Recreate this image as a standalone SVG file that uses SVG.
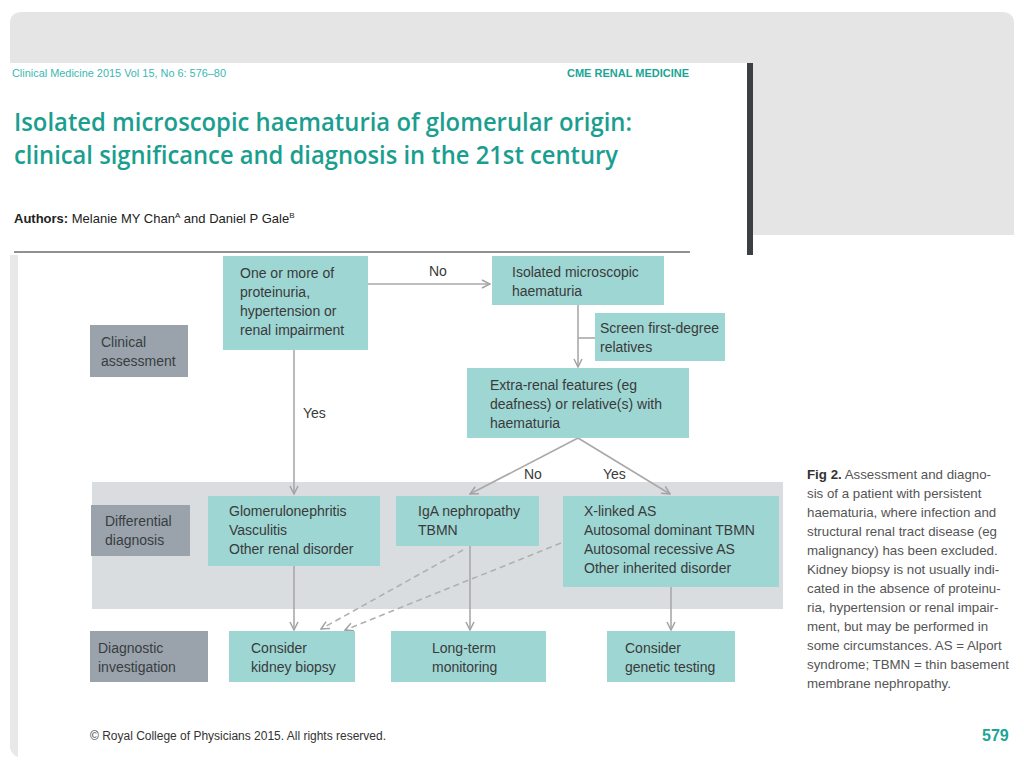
<svg xmlns="http://www.w3.org/2000/svg" width="1024" height="768" viewBox="0 0 1024 768">
<style>
.box{fill:#9dd6d3;}
.lab{fill:#9aa3ab;}
.t{font-family:"Liberation Sans",Arial,sans-serif;font-size:14px;fill:#3a3a3a;}
.tl{font-family:"Liberation Sans",Arial,sans-serif;font-size:14px;fill:#383d42;}
.c{fill:none;stroke:#a9a9a9;stroke-width:1.6;}
.d{fill:none;stroke:#b0b0b0;stroke-width:1.6;stroke-dasharray:6,4;}
.cap{font-family:"Liberation Sans",Arial,sans-serif;font-size:13.3px;fill:#555;}
.teal{fill:#1a9e90;}
</style>
<defs>
<marker id="ah" viewBox="0 0 10 10" refX="9" refY="5" markerWidth="10" markerHeight="10" markerUnits="userSpaceOnUse" orient="auto">
<path d="M1,1 L9,5 L1,9" fill="none" stroke="#a3a3a3" stroke-width="1.5"/>
</marker>
</defs>
<rect width="1024" height="768" fill="#ffffff"/>
<!-- frame -->
<path d="M10,63 L10,24 Q10,12 22,12 L1002,12 Q1014,12 1014,24 L1014,63 Z" fill="#e5e5e5"/>
<rect x="752" y="63" width="262" height="172" fill="#e5e5e5"/>
<rect x="747" y="63" width="6" height="192" fill="#3d4043"/>
<path d="M10,255 L18,255 L18,757 Q12,755 10,748 Z" fill="#e8e8e8"/>
<!-- header -->
<text x="12" y="77" font-family="Liberation Sans,Arial,sans-serif" font-size="11.5" fill="#3bb8b2" textLength="214" lengthAdjust="spacingAndGlyphs">Clinical Medicine 2015 Vol 15, No 6: 576–80</text>
<text x="567" y="77" font-family="Liberation Sans,Arial,sans-serif" font-size="11.5" font-weight="bold" fill="#1aa596" textLength="122" lengthAdjust="spacingAndGlyphs">CME RENAL MEDICINE</text>
<text x="14" y="131" font-family="'Open Sans','Liberation Sans',Arial,sans-serif" font-size="25" font-weight="600" class="teal" textLength="618" lengthAdjust="spacingAndGlyphs">Isolated microscopic haematuria of glomerular origin:</text>
<text x="14" y="164" font-family="'Open Sans','Liberation Sans',Arial,sans-serif" font-size="25" font-weight="600" class="teal" textLength="604" lengthAdjust="spacingAndGlyphs">clinical significance and diagnosis in the 21st century</text>
<text x="14" y="223" font-family="Liberation Sans,Arial,sans-serif" font-size="13" fill="#222"><tspan font-weight="bold">Authors:</tspan> Melanie MY Chan<tspan font-size="8" dy="-5">A</tspan><tspan dy="5"> and Daniel P Gale</tspan><tspan font-size="8" dy="-5">B</tspan></text>
<line x1="14" y1="252" x2="690" y2="252" stroke="#222" stroke-width="1"/>
<!-- differential band -->
<rect x="92" y="482" width="691" height="127" fill="#d9dde0"/>
<!-- connectors -->
<g id="connectors">
<line class="c" x1="368" y1="284" x2="490" y2="284" marker-end="url(#ah)"/>
<line class="c" x1="578" y1="305" x2="578" y2="367" marker-end="url(#ah)"/>
<line class="c" x1="578" y1="338" x2="595" y2="338"/>
<line class="c" x1="294" y1="350" x2="294" y2="494" marker-end="url(#ah)"/>
<line class="c" x1="578" y1="438" x2="470" y2="494" marker-end="url(#ah)"/>
<line class="c" x1="578" y1="438" x2="670" y2="494" marker-end="url(#ah)"/>
<line class="c" x1="294" y1="566" x2="294" y2="630" marker-end="url(#ah)"/>
<line class="c" x1="470" y1="546" x2="470" y2="630" marker-end="url(#ah)"/>
<line class="c" x1="671" y1="587" x2="671" y2="630" marker-end="url(#ah)"/>
<line class="d" x1="463" y1="550" x2="321" y2="629" marker-end="url(#ah)"/>
<line class="d" x1="561" y1="543" x2="345" y2="630" marker-end="url(#ah)"/>
<text class="t" x="429" y="276">No</text>
<text class="t" x="303" y="418">Yes</text>
<text class="t" x="524" y="479">No</text>
<text class="t" x="603" y="479">Yes</text>
</g>
<!-- labels -->
<g id="clinical-assessment">
<rect class="lab" x="90" y="325" width="98" height="52"/>
<text class="tl" x="101" y="347">Clinical</text>
<text class="tl" x="101" y="366">assessment</text>
</g>
<g id="differential-diagnosis">
<rect class="lab" x="91" y="505" width="99" height="51"/>
<text class="tl" x="105" y="526">Differential</text>
<text class="tl" x="105" y="545">diagnosis</text>
</g>
<g id="diagnostic-investigation">
<rect class="lab" x="90" y="631" width="118" height="51"/>
<text class="tl" x="98" y="653">Diagnostic</text>
<text class="tl" x="98" y="672">investigation</text>
</g>
<!-- nodes -->
<g id="node-criteria">
<rect class="box" x="223" y="256" width="145" height="94"/>
<text class="t" x="240" y="278">One or more of</text>
<text class="t" x="240" y="297">proteinuria,</text>
<text class="t" x="240" y="316">hypertension or</text>
<text class="t" x="240" y="335">renal impairment</text>
</g>
<g id="node-isolated">
<rect class="box" x="492" y="256" width="172" height="49"/>
<text class="t" x="512" y="277">Isolated microscopic</text>
<text class="t" x="512" y="296">haematuria</text>
</g>
<g id="node-screen">
<rect class="box" x="595" y="313" width="130" height="48"/>
<text class="t" x="600" y="333">Screen first-degree</text>
<text class="t" x="600" y="352">relatives</text>
</g>
<g id="node-extrarenal">
<rect class="box" x="467" y="368" width="222" height="70"/>
<text class="t" x="490" y="390">Extra-renal features (eg</text>
<text class="t" x="490" y="409">deafness) or relative(s) with</text>
<text class="t" x="490" y="428">haematuria</text>
</g>
<g id="node-glomerulo">
<rect class="box" x="208" y="496" width="172" height="70"/>
<text class="t" x="229" y="516">Glomerulonephritis</text>
<text class="t" x="229" y="535">Vasculitis</text>
<text class="t" x="229" y="554">Other renal disorder</text>
</g>
<g id="node-iga">
<rect class="box" x="396" y="496" width="143" height="50"/>
<text class="t" x="418" y="516">IgA nephropathy</text>
<text class="t" x="418" y="535">TBMN</text>
</g>
<g id="node-inherited">
<rect class="box" x="563" y="496" width="216" height="91"/>
<text class="t" x="584" y="516">X-linked AS</text>
<text class="t" x="584" y="535">Autosomal dominant TBMN</text>
<text class="t" x="584" y="554">Autosomal recessive AS</text>
<text class="t" x="584" y="573">Other inherited disorder</text>
</g>
<g id="node-biopsy">
<rect class="box" x="229" y="631" width="126" height="51"/>
<text class="t" x="251" y="653">Consider</text>
<text class="t" x="251" y="672">kidney biopsy</text>
</g>
<g id="node-monitoring">
<rect class="box" x="391" y="631" width="155" height="51"/>
<text class="t" x="432" y="653">Long-term</text>
<text class="t" x="432" y="672">monitoring</text>
</g>
<g id="node-genetic">
<rect class="box" x="607" y="631" width="128" height="51"/>
<text class="t" x="625" y="653">Consider</text>
<text class="t" x="625" y="672">genetic testing</text>
</g>
<!-- caption -->
<g id="caption">
<text class="cap" x="807" y="479"><tspan font-weight="bold" fill="#333">Fig 2.</tspan> Assessment and diagno-</text>
<text class="cap" x="807" y="498">sis of a patient with persistent</text>
<text class="cap" x="807" y="517">haematuria, where infection and</text>
<text class="cap" x="807" y="536">structural renal tract disease (eg</text>
<text class="cap" x="807" y="555">malignancy) has been excluded.</text>
<text class="cap" x="807" y="574">Kidney biopsy is not usually indi-</text>
<text class="cap" x="807" y="593">cated in the absence of proteinu-</text>
<text class="cap" x="807" y="612">ria, hypertension or renal impair-</text>
<text class="cap" x="807" y="631">ment, but may be performed in</text>
<text class="cap" x="807" y="650">some circumstances. AS = Alport</text>
<text class="cap" x="807" y="669">syndrome; TBMN = thin basement</text>
<text class="cap" x="807" y="688">membrane nephropathy.</text>
</g>
<!-- footer -->
<text x="90" y="740" font-family="Liberation Sans,Arial,sans-serif" font-size="12.5" fill="#333" textLength="296" lengthAdjust="spacingAndGlyphs">© Royal College of Physicians 2015. All rights reserved.</text>
<text x="982" y="741" font-family="Liberation Sans,Arial,sans-serif" font-size="16" font-weight="bold" fill="#1aa596">579</text>
</svg>
